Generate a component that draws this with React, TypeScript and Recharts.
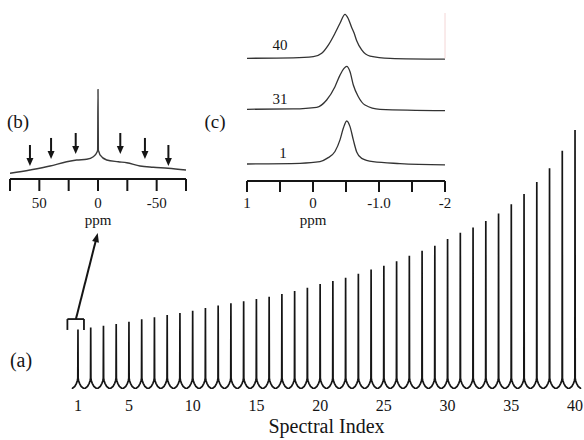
import React from 'react';
import { LineChart, Line, XAxis, YAxis, ReferenceLine, Label } from 'recharts';

// ---------- (a) main spectrum ----------
const spectralIndex = [
  1, 2, 3, 4, 5, 6, 7, 8, 9, 10, 11, 12, 13, 14, 15, 16, 17, 18, 19, 20,
  21, 22, 23, 24, 25, 26, 27, 28, 29, 30, 31, 32, 33, 34, 35, 36, 37, 38, 39, 40,
];
const peakHeights = [
  0.230, 0.237, 0.244, 0.251, 0.260, 0.269, 0.277, 0.286, 0.293, 0.302,
  0.313, 0.322, 0.331, 0.339, 0.347, 0.356, 0.367, 0.378, 0.391, 0.405,
  0.417, 0.430, 0.445, 0.461, 0.476, 0.493, 0.514, 0.534, 0.553, 0.579,
  0.603, 0.624, 0.649, 0.678, 0.713, 0.753, 0.799, 0.852, 0.920, 1.000,
];
const mainTicks = [1, 5, 10, 15, 20, 25, 30, 35, 40];
// shape of each line's foot (offset from the peak centre, intensity)
const footOffsets = [0.015, 0.05, 0.12, 0.25, 0.5];
const footLevels = [0.042, 0.032, 0.022, 0.01, 0];
// bracket over spectrum 1 and the arrow towards inset (b)
const bracketX = [0.17, 1.47];
const bracketY = [0.27, 0.228];
const zoomArrowFrom = { x: 0.84, y: 0.27 };
const zoomArrowTo = { x: 2.55, y: 0.602 };

// ---------- (b) inset: spectrum 1, wide range ----------
const bPpm = [75, 58, 40.9, 26.7, 18.2, 9.6, 4.0, 0.8, 0.3, 0, -0.3, -0.85, -1.7, -7.4, -17.3, -24.5, -35.8, -47.1, -59.7, -75];
const bIntensity = [6.3, 10, 14.4, 19.2, 21.1, 21.9, 24.8, 30, 32.2, 99.7, 32.2, 30, 26.7, 21.1, 19.2, 18.1, 14.4, 13, 11.9, 10];
const bTicks = [75, 50, 25, 0, -25, -50, -75];
const bTickLabels = ['', '50', '', '0', '', '-50', ''];
const bArrowPpm = [58, 40, 19, -19, -40, -60];
const bArrowTop = [37.8, 45.6, 51.1, 51.1, 45.6, 37.8];
const bArrowTip = [14.4, 22.2, 27.8, 27.8, 22.2, 14.4];

// ---------- (c) inset: spectra 1, 31, 40 ----------
const c1Ppm = [1.0, 0.197, -0.106, -0.212, -0.333, -0.409, -0.459, -0.511, -0.561, -0.611, -0.662, -0.738, -0.909, -1.318, -2.0];
const c1Int = [0, 0.016, 0.053, 0.13, 0.29, 0.56, 0.83, 1.0, 0.87, 0.56, 0.28, 0.13, 0.053, 0.01, -0.02];
const c31Ppm = [1.0, 0.3, -0.056, -0.207, -0.333, -0.409, -0.470, -0.511, -0.561, -0.611, -0.687, -0.788, -1.015, -2.0];
const c31Int = [0, 0.01, 0.047, 0.216, 0.526, 0.795, 0.953, 1.0, 0.874, 0.565, 0.293, 0.100, 0.0, -0.03];
const c40Ppm = [1.0, 0.3, -0.005, -0.132, -0.232, -0.333, -0.409, -0.485, -0.535, -0.586, -0.621, -0.662, -0.738, -0.864, -1.167, -2.0];
const c40Int = [0, 0.01, 0.036, 0.114, 0.30, 0.568, 0.795, 1.0, 0.90, 0.70, 0.58, 0.40, 0.19, 0.05, 0.0, -0.02];
const cTraceLabels = ['40', '31', '1'];
const cTicks = [1, 0.5, 0, -0.5, -1, -1.5, -2];
const cTickLabels = ['1', '', '0', '', '-1.0', '', '-2'];

const FONT = "'Liberation Serif', 'Times New Roman', serif";
const INK = '#151515';

// build tables for the library
const mainData: { x: number; y: number }[] = [];
spectralIndex.forEach((idx, k) => {
  if (k === 0) mainData.push({ x: idx - 0.5, y: 0 });
  for (let j = footOffsets.length - 2; j >= 0; j--) mainData.push({ x: idx - footOffsets[j], y: footLevels[j] });
  mainData.push({ x: idx, y: peakHeights[k] });
  for (let j = 0; j < footOffsets.length; j++) mainData.push({ x: idx + footOffsets[j], y: footLevels[j] });
});
const bData = bPpm.map((p, i) => ({ ppm: p, v: bIntensity[i] }));
const c1Data = c1Ppm.map((p, i) => ({ ppm: p, v: c1Int[i] }));
const c31Data = c31Ppm.map((p, i) => ({ ppm: p, v: c31Int[i] }));
const c40Data = c40Ppm.map((p, i) => ({ ppm: p, v: c40Int[i] }));

const Arrow = (props: any) => {
  const { x1, y1, x2, y2, head = 8, half = 3.5, color = INK, width = 1.8 } = props;
  const dx = x2 - x1;
  const dy = y2 - y1;
  const len = Math.hypot(dx, dy) || 1;
  const ux = dx / len;
  const uy = dy / len;
  const bx = x2 - ux * head;
  const by = y2 - uy * head;
  const px = -uy;
  const py = ux;
  return (
    <g>
      <line x1={x1} y1={y1} x2={bx + ux * 1} y2={by + uy * 1} stroke={color} strokeWidth={width} />
      <polygon
        points={`${x2},${y2} ${bx + px * half},${by + py * half} ${bx - px * half},${by - py * half}`}
        fill={color}
      />
    </g>
  );
};

// (c) layout: plot from y=10 to y=181, ~43px per unit intensity
const C_TOP = 10;
const C_BOTTOM = 181;
const cDomain = (baselinePx: number, pxPerUnit: number): [number, number] => {
  const lo = -(C_BOTTOM - baselinePx) / pxPerUnit;
  return [lo, lo + (C_BOTTOM - C_TOP) / pxPerUnit];
};

export default function App() {
  return (
    <div style={{ position: 'absolute', left: 0, top: 0, width: 584, height: 440, background: '#fff', fontFamily: FONT }}>
      {/* (a) */}
      <div style={{ position: 'absolute', left: 0, top: 0 }}>
        <LineChart width={584} height={440} data={mainData} margin={{ top: 130, right: 2.6, left: 71.6, bottom: 0 }}>
          <XAxis
            dataKey="x"
            type="number"
            domain={[0.5, 40.5]}
            allowDataOverflow
            ticks={mainTicks}
            interval={0}
            axisLine={false}
            tickLine={false}
            tickSize={0}
            tickMargin={11}
            height={51}
            tick={{ fontSize: 16, fill: INK, fontFamily: FONT }}
          >
            <Label value="Spectral Index" position="insideBottom" offset={7} style={{ fontSize: 20, fill: INK, fontFamily: FONT }} />
          </XAxis>
          <YAxis hide domain={[0, 1]} allowDataOverflow />
          <Line
            dataKey="y"
            type="linear"
            stroke={INK}
            strokeWidth={1.7}
            dot={false}
            isAnimationActive={false}
          />
          <ReferenceLine
            segment={[{ x: bracketX[0], y: bracketY[0] }, { x: bracketX[1], y: bracketY[0] }]}
            stroke={INK}
            strokeWidth={1.8}
            ifOverflow="visible"
          />
          <ReferenceLine
            segment={[{ x: bracketX[0], y: bracketY[0] }, { x: bracketX[0], y: bracketY[1] }]}
            stroke={INK}
            strokeWidth={1.8}
            ifOverflow="visible"
          />
          <ReferenceLine
            segment={[{ x: bracketX[1], y: bracketY[0] }, { x: bracketX[1], y: bracketY[1] }]}
            stroke={INK}
            strokeWidth={1.8}
            ifOverflow="visible"
          />
          <ReferenceLine
            segment={[zoomArrowFrom, zoomArrowTo]}
            ifOverflow="visible"
            shape={(p: any) => <Arrow {...p} head={9} half={3.5} width={2} />}
          />
          <text x={21} y={367} textAnchor="middle" fontSize={20} fill={INK} fontFamily={FONT}>(a)</text>
        </LineChart>
      </div>

      {/* (b) */}
      <div style={{ position: 'absolute', left: 0, top: 0 }}>
        <LineChart width={205} height={229} data={bData} margin={{ top: 89, right: 19, left: 10, bottom: 0 }}>
          <XAxis
            dataKey="ppm"
            type="number"
            domain={[-75, 75]}
            reversed
            allowDataOverflow
            ticks={bTicks}
            interval={0}
            tickFormatter={(v: number) => bTickLabels[bTicks.indexOf(v)] ?? ''}
            axisLine={{ stroke: INK, strokeWidth: 2 }}
            tickLine={{ stroke: INK, strokeWidth: 2 }}
            tickSize={12}
            tickMargin={6}
            height={50}
            tick={{ fontSize: 15, fill: INK, fontFamily: FONT }}
          >
            <Label value="ppm" position="insideBottom" offset={4} style={{ fontSize: 15, fill: INK, fontFamily: FONT }} />
          </XAxis>
          <YAxis hide domain={[0, 100]} allowDataOverflow />
          <Line dataKey="v" type="monotone" stroke="#3a3a3a" strokeWidth={1.4} dot={false} isAnimationActive={false} />
          {bArrowPpm.map((p, i) => (
            <ReferenceLine
              key={i}
              segment={[{ x: p, y: bArrowTop[i] }, { x: p, y: bArrowTip[i] }]}
              ifOverflow="visible"
              shape={(sp: any) => <Arrow {...sp} head={8} half={3.5} width={2} />}
            />
          ))}
          <text x={18} y={128} textAnchor="middle" fontSize={19} fill={INK} fontFamily={FONT}>(b)</text>
        </LineChart>
      </div>

      {/* (c) */}
      <div style={{ position: 'absolute', left: 195, top: 0 }}>
        <LineChart width={270} height={229} margin={{ top: C_TOP, right: 20, left: 52, bottom: 0 }}>
          <XAxis
            dataKey="ppm"
            type="number"
            domain={[-2, 1]}
            reversed
            allowDataOverflow
            ticks={cTicks}
            interval={0}
            tickFormatter={(v: number) => cTickLabels[cTicks.indexOf(v)] ?? ''}
            axisLine={{ stroke: INK, strokeWidth: 2 }}
            tickLine={{ stroke: INK, strokeWidth: 2 }}
            tickSize={11}
            tickMargin={5}
            height={48}
            tick={{ fontSize: 15, fill: INK, fontFamily: FONT }}
          >
            <Label value="ppm" position="insideBottom" offset={4} dx={-33} style={{ fontSize: 15, fill: INK, fontFamily: FONT }} />
          </XAxis>
          <YAxis yAxisId="t1" hide domain={cDomain(164, 43)} allowDataOverflow />
          <YAxis yAxisId="t31" hide domain={cDomain(109.3, 43)} allowDataOverflow />
          <YAxis yAxisId="t40" hide domain={cDomain(58.3, 44)} allowDataOverflow />
          <Line yAxisId="t1" data={c1Data} dataKey="v" type="monotone" stroke="#333" strokeWidth={1.3} dot={false} isAnimationActive={false} />
          <Line yAxisId="t31" data={c31Data} dataKey="v" type="monotone" stroke="#333" strokeWidth={1.3} dot={false} isAnimationActive={false} />
          <Line yAxisId="t40" data={c40Data} dataKey="v" type="monotone" stroke="#333" strokeWidth={1.3} dot={false} isAnimationActive={false} />
          <ReferenceLine
            yAxisId="t40"
            segment={[{ x: -2, y: 0 }, { x: -2, y: 1.03 }]}
            stroke="#f4d6d6"
            strokeWidth={1}
            ifOverflow="visible"
          />
          <text x={85} y={50} textAnchor="middle" fontSize={15} fill={INK} fontFamily={FONT}>{cTraceLabels[0]}</text>
          <text x={85} y={104} textAnchor="middle" fontSize={15} fill={INK} fontFamily={FONT}>{cTraceLabels[1]}</text>
          <text x={88} y={158} textAnchor="middle" fontSize={15} fill={INK} fontFamily={FONT}>{cTraceLabels[2]}</text>
          <text x={20} y={128} textAnchor="middle" fontSize={19} fill={INK} fontFamily={FONT}>(c)</text>
        </LineChart>
      </div>
    </div>
  );
}
